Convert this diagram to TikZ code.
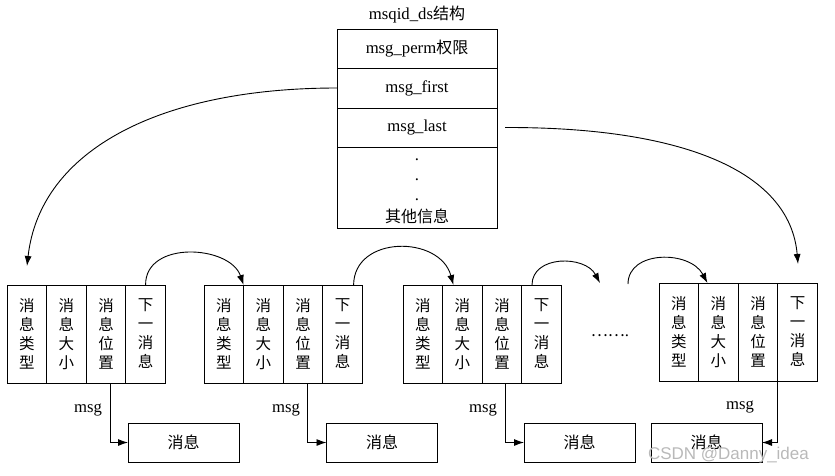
\documentclass[tikz,border=0pt]{standalone}
\usepackage{fontspec}
\setmainfont{Liberation Serif}
\newfontfamily\cjk{Noto Sans CJK SC}
\newfontfamily\wmfont{Liberation Sans}
\usetikzlibrary{arrows.meta}
\begin{document}
\begin{tikzpicture}[x=1pt,y=-1pt, line width=0.9pt,
  every node/.style={inner sep=0pt, outer sep=0pt},
  lat/.style={font=\fontsize{16.7pt}{19pt}\selectfont},
  cjkv/.style={font=\cjk\fontsize{15.5pt}{19pt}\selectfont, align=center},
  col/.style={draw, minimum width=39.6pt, minimum height=98pt, cjkv},
  row/.style={draw, minimum width=160pt, lat},
  msgbox/.style={draw, minimum width=111pt, minimum height=39pt, font=\cjk\fontsize{16pt}{19pt}\selectfont},
  tip/.style={-{Latex[length=10pt,width=7pt]}},
]
\useasboundingbox (0,0) rectangle (835,475);

% msqid_ds structure
\node[lat] (title) at (417,15) {msqid\_ds{\cjk\fontsize{16pt}{19pt}\selectfont 结构}};
\node[row, minimum height=39pt] (r1) at (417,48.5) {msg\_perm{\cjk\fontsize{16pt}{19pt}\selectfont 权限}};
\node[row, minimum height=40pt] (r2) at (417,88) {msg\_first};
\node[row, minimum height=39pt] (r3) at (417,127.5) {msg\_last};
\node[row, minimum height=81pt] (r4) at (417,187.5) {};
\node[lat, anchor=base] (d1t) at (417,160) {.};
\node[lat, anchor=base] (d2t) at (417,180) {.};
\node[lat, anchor=base] (d3t) at (417,200) {.};
\node[font=\cjk\fontsize{16pt}{19pt}\selectfont] (other) at (417,216) {其他信息};

% message blocks
\foreach \k/\x/\y in {1/7/334, 2/204/334, 3/403/334, 4/659/332} {
  \node[col] (b\k c1) at (\x+19.8,\y) {消\\息\\类\\型};
  \node[col] (b\k c2) at (\x+59.4,\y) {消\\息\\大\\小};
  \node[col] (b\k c3) at (\x+99,\y) {消\\息\\位\\置};
  \node[col] (b\k c4) at (\x+138.6,\y) {下\\一\\消\\息};
}

% message boxes
\foreach \k/\x in {1/183.5, 2/382, 3/579.5, 4/706.5}
  \node[msgbox] (m\k) at (\x,442.5) {消息};

% msg pointers
\draw[tip] ([xshift=4pt]b1c3.south) |- (m1.west);
\draw[tip] ([xshift=4pt]b2c3.south) |- (m2.west);
\draw[tip] ([xshift=3pt]b3c3.south) |- (m3.west);
\draw[tip] (b4c3.south east) |- (m4.east);
\node[lat] (l1) at (88,410) {msg};
\node[lat] (l2) at (286,410) {msg};
\node[lat] (l3) at (483,410) {msg};
\node[lat] (l4) at (740,407) {msg};

% next-message arcs
\coordinate (dA) at (600,283);
\coordinate (dB) at (628,284);
\draw[tip] (b1c4.north) .. controls (145,240) and (230,245) .. (b2c1.north east);
\draw[tip] ([xshift=11pt]b2c4.north) .. controls (354,235) and (440,235) .. ([xshift=-9pt]b3c2.north);
\draw[tip] ([xshift=-9.6pt]b3c4.north) .. controls (532,255) and (585,255) .. (dA);
\draw[tip] (dB) .. controls (628,250) and (690,250) .. ([xshift=-11pt]b4c2.north);

\node[anchor=base, lat] (ell) at (610,336) {{\cjk\fontsize{16pt}{19pt}\selectfont ……}.};

% first / last pointers
\coordinate (e1) at (27,266);
\coordinate (e2) at (798,264);
\draw[tip] (r2.west) .. controls (160,88) and (40,150) .. (e1);
\draw[tip] ([xshift=8pt]r3.east) .. controls (680,127) and (790,170) .. (e2);

% watermark
\node[font=\wmfont\fontsize{17pt}{17pt}\selectfont, text=gray!55, anchor=base west] (wm) at (648,459) {CSDN @Danny\_idea};
\end{tikzpicture}
\end{document}
